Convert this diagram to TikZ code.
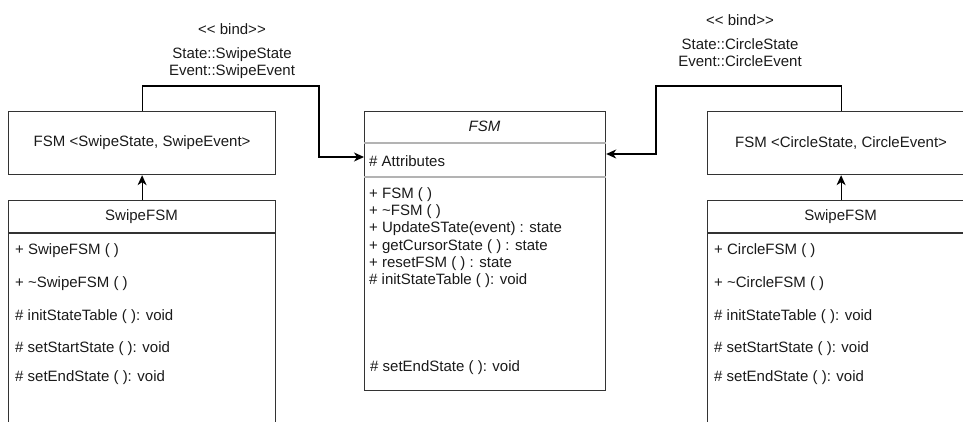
\documentclass[tikz,border=0pt]{standalone}
\usepackage{fontspec}
\setmainfont{Liberation Sans}
\usetikzlibrary{arrows.meta}
\definecolor{edge}{HTML}{333333}
\definecolor{sep}{HTML}{B3B3B3}
\definecolor{ink}{HTML}{1A1A1A}
\tikzset{
  box/.style={draw=edge, line width=1.2pt, rectangle, inner sep=0pt, anchor=north west},
  lbl/.style={inner sep=0pt, text=ink, font=\fontsize{15}{17}\selectfont},
  item/.style={lbl, anchor=west},
  link/.style={draw=black, line width=1.2pt, -{Stealth[length=10pt,width=9pt,inset=3pt]}},
}
\begin{document}
\begin{tikzpicture}[x=1pt, y=-1pt]
\useasboundingbox (0,0) rectangle (963,421);
\clip (0,0) rectangle (963,421);

% template instantiations
\node[box, minimum width=267pt, minimum height=63pt] (tl) at (8,111) {};
\node[lbl] (tltxt) at (tl.center) {FSM <SwipeState, SwipeEvent>};
\node[box, minimum width=267pt, minimum height=63pt] (tr) at (707,111) {};
\node[lbl] (trtxt) at (tr.center) {FSM <CircleState, CircleEvent>};

% generic FSM class
\node[box, minimum width=241pt, minimum height=279pt] (fsm) at (364,111) {};
\node[lbl, font=\fontsize{15}{17}\selectfont\itshape] (fsmname) at (484.5,126) {FSM};
\draw[sep, line width=1.2pt] (fsm.north west |- 0,143) -- (fsm.north east |- 0,143);
\draw[sep, line width=1.2pt] (fsm.north west |- 0,177) -- (fsm.north east |- 0,177);
\node[item] (fa) at (369,161) {\# Attributes};
\node[item] (f1) at (369,195) {+ FSM ( )};
\node[item] (f2) at (369,212) {+ \string~FSM ( )};
\node[item] (f3) at (369,229) {+ UpdateSTate(event) : state};
\node[item] (f4) at (369,247) {+ getCursorState ( ) : state};
\node[item] (f5) at (369,264) {+ resetFSM ( ) : state};
\node[item] (f6) at (369,281) {\# initStateTable ( ): void};
\node[item] (f7) at (370,368) {\# setEndState ( ): void};

% concrete subclasses
\node[box, minimum width=267pt, minimum height=240pt] (sl) at (8,200) {};
\draw[edge, line width=1.2pt] (8,233) -- (275,233);
\node[lbl] (slname) at (141.5,217) {SwipeFSM};
\node[item] (s1) at (15,251) {+ SwipeFSM ( )};
\node[item] (s2) at (15,284) {+ \string~SwipeFSM ( )};
\node[item] (s3) at (15,317) {\# initStateTable ( ): void};
\node[item] (s4) at (15,349) {\# setStartState ( ): void};
\node[item] (s5) at (15,378) {\# setEndState ( ): void};

\node[box, minimum width=267pt, minimum height=240pt] (sr) at (707,200) {};
\draw[edge, line width=1.2pt] (707,233) -- (974,233);
\node[lbl] (srname) at (840.5,217) {SwipeFSM};
\node[item] (r1) at (714,251) {+ CircleFSM ( )};
\node[item] (r2) at (714,284) {+ \string~CircleFSM ( )};
\node[item] (r3) at (714,317) {\# initStateTable ( ): void};
\node[item] (r4) at (714,349) {\# setStartState ( ): void};
\node[item] (r5) at (714,378) {\# setEndState ( ): void};

% bind labels
\node[lbl] (bl) at (232,29) {<{}< bind>{}>};
\node[lbl, align=center] (bltxt) at (232,63) {State::SwipeState\\Event::SwipeEvent};
\node[lbl] (br) at (740,20) {<{}< bind>{}>};
\node[lbl, align=center] (brtxt) at (740,52.5) {State::CircleState\\Event::CircleEvent};

% connectors
\draw[link] (tl.north) |- (319,86) |- ([yshift=-46pt]fsm.north west);
\draw[link] (tr.north) |- (656,86) |- ([yshift=-43pt]fsm.north east);
\draw[link] (sl.north) -- (tl.south);
\draw[link] (sr.north) -- (tr.south);
\end{tikzpicture}
\end{document}
